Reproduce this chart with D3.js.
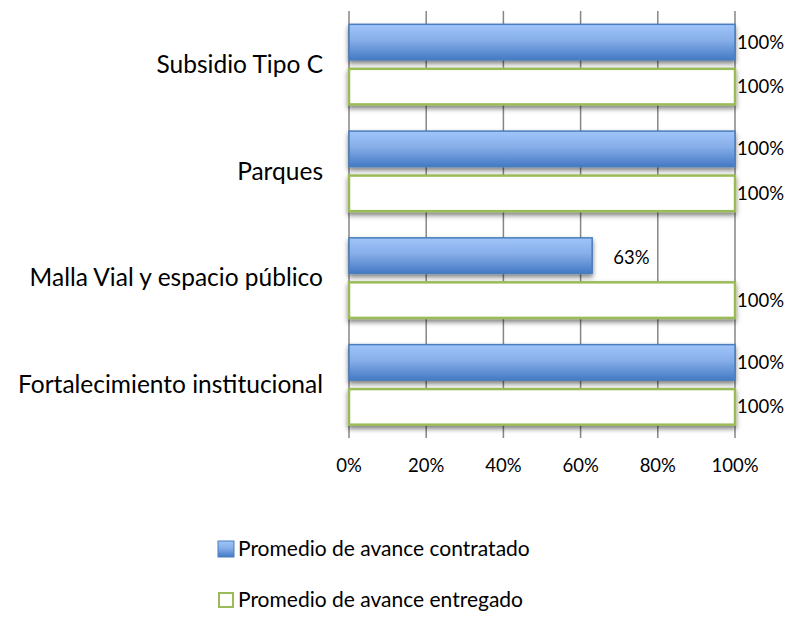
<!DOCTYPE html>
<html>
<head>
<meta charset="utf-8">
<script src="https://cdn.jsdelivr.net/npm/d3@7"></script>
<style>
  body { margin: 0; background: #fff; }
  svg text { font-family: Lato, "Open Sans", sans-serif; fill: #000; }
</style>
</head>
<body>
<svg id="chart"></svg>
<script>
// categories top to bottom
const categories = ["Subsidio Tipo C", "Parques", "Malla Vial y espacio público", "Fortalecimiento institucional"];
const seriesNames = ["Promedio de avance contratado", "Promedio de avance entregado"];
const contratado = [1.00, 1.00, 0.63, 1.00];
const entregado = [1.00, 1.00, 1.00, 1.00];
const xTicks = [0, 0.2, 0.4, 0.6, 0.8, 1.0];

drawChart();

function drawChart() {
    const width = 790, height = 626;
    const margin = { top: 11, right: 55, bottom: 188, left: 349 };
    const innerW = width - margin.left - margin.right;
    const innerH = height - margin.top - margin.bottom;

    const svg = d3.select("#chart").attr("width", width).attr("height", height);

    const defs = svg.append("defs");
    const grad = defs.append("linearGradient")
        .attr("id", "blueGrad").attr("x1", 0).attr("y1", 0).attr("x2", 0).attr("y2", 1);
    grad.append("stop").attr("offset", "0%").attr("stop-color", "#a0c5fb");
    grad.append("stop").attr("offset", "45%").attr("stop-color", "#86aee8");
    grad.append("stop").attr("offset", "100%").attr("stop-color", "#4479c5");

    const shadow = defs.append("filter").attr("id", "shadow")
        .attr("x", "-5%").attr("y", "-20%").attr("width", "110%").attr("height", "160%");
    shadow.append("feDropShadow").attr("dx", 0).attr("dy", 3).attr("stdDeviation", 2.5)
        .attr("flood-color", "#000").attr("flood-opacity", 0.5);

    const g = svg.append("g").attr("transform", `translate(${margin.left},${margin.top})`);

    const x = d3.scaleLinear().domain([0, 1]).range([0, innerW]);
    const y0 = d3.scaleBand().domain(categories).range([0, innerH]).paddingInner(0.25).paddingOuter(0.125);
    const y1 = d3.scaleBand().domain(seriesNames).range([0, y0.bandwidth()]).paddingInner(0.2);

    // gridlines
    g.append("g").selectAll("line")
        .data(xTicks)
        .join("line")
        .attr("x1", d => x(d)).attr("x2", d => x(d))
        .attr("y1", 0).attr("y2", innerH)
        .attr("stroke", "#868686").attr("stroke-width", 1.5);

    // x tick labels
    g.append("g").selectAll("text")
        .data(xTicks)
        .join("text")
        .attr("x", d => x(d))
        .attr("y", innerH + 28)
        .attr("dy", "0.35em")
        .attr("text-anchor", "middle")
        .style("font-size", "18.5px")
        .text(d3.format(".0%"));

    // category labels
    g.append("g").selectAll("text")
        .data(categories)
        .join("text")
        .attr("x", -26)
        .attr("y", d => y0(d) + y0.bandwidth() / 2)
        .attr("dy", "0.35em")
        .attr("text-anchor", "end")
        .style("font-size", "24.5px")
        .text(d => d);

    const rows = categories.map((c, i) => ({ cat: c, vals: [contratado[i], entregado[i]] }));

    const groups = g.append("g").selectAll("g")
        .data(rows)
        .join("g")
        .attr("transform", d => `translate(0,${y0(d.cat)})`);

    groups.selectAll("rect")
        .data(d => d.vals.map((v, j) => ({ s: seriesNames[j], v: v, j: j })))
        .join("rect")
        .attr("x", 0)
        .attr("y", d => y1(d.s))
        .attr("width", d => x(d.v))
        .attr("height", y1.bandwidth())
        .attr("fill", d => d.j === 0 ? "url(#blueGrad)" : "#fff")
        .attr("stroke", d => d.j === 0 ? "#4a7ebb" : "#9bbb59")
        .attr("stroke-width", d => d.j === 0 ? 1.5 : 2.5)
        .attr("filter", "url(#shadow)");

    // value labels
    groups.selectAll("text")
        .data(d => d.vals.map((v, j) => ({ s: seriesNames[j], v: v, j: j })))
        .join("text")
        .attr("x", d => x(d.v) + (d.v < 1 ? 21 : 2))
        .attr("y", d => y1(d.s) + y1.bandwidth() / 2 + (d.v < 1 ? 2 : 0))
        .attr("dy", "0.35em")
        .style("font-size", "18.5px")
        .text(d => d3.format(".0%")(d.v));

    // legend
    const legend = svg.append("g").attr("transform", "translate(218,0)");
    const legY = [549, 600];
    seriesNames.forEach((name, j) => {
        legend.append("rect")
            .attr("x", j === 0 ? 0 : 1).attr("y", legY[j] - 8 + (j === 0 ? 0 : 1))
            .attr("width", j === 0 ? 16 : 14).attr("height", j === 0 ? 16 : 14)
            .attr("fill", j === 0 ? "url(#blueGrad)" : "#fff")
            .attr("stroke", j === 0 ? "#4a7ebb" : "#9bbb59")
            .attr("stroke-width", j === 0 ? 1 : 2);
        legend.append("text")
            .attr("x", 20).attr("y", legY[j])
            .attr("dy", "0.35em")
            .style("font-size", "21px")
            .text(name);
    });
}
</script>
</body>
</html>
